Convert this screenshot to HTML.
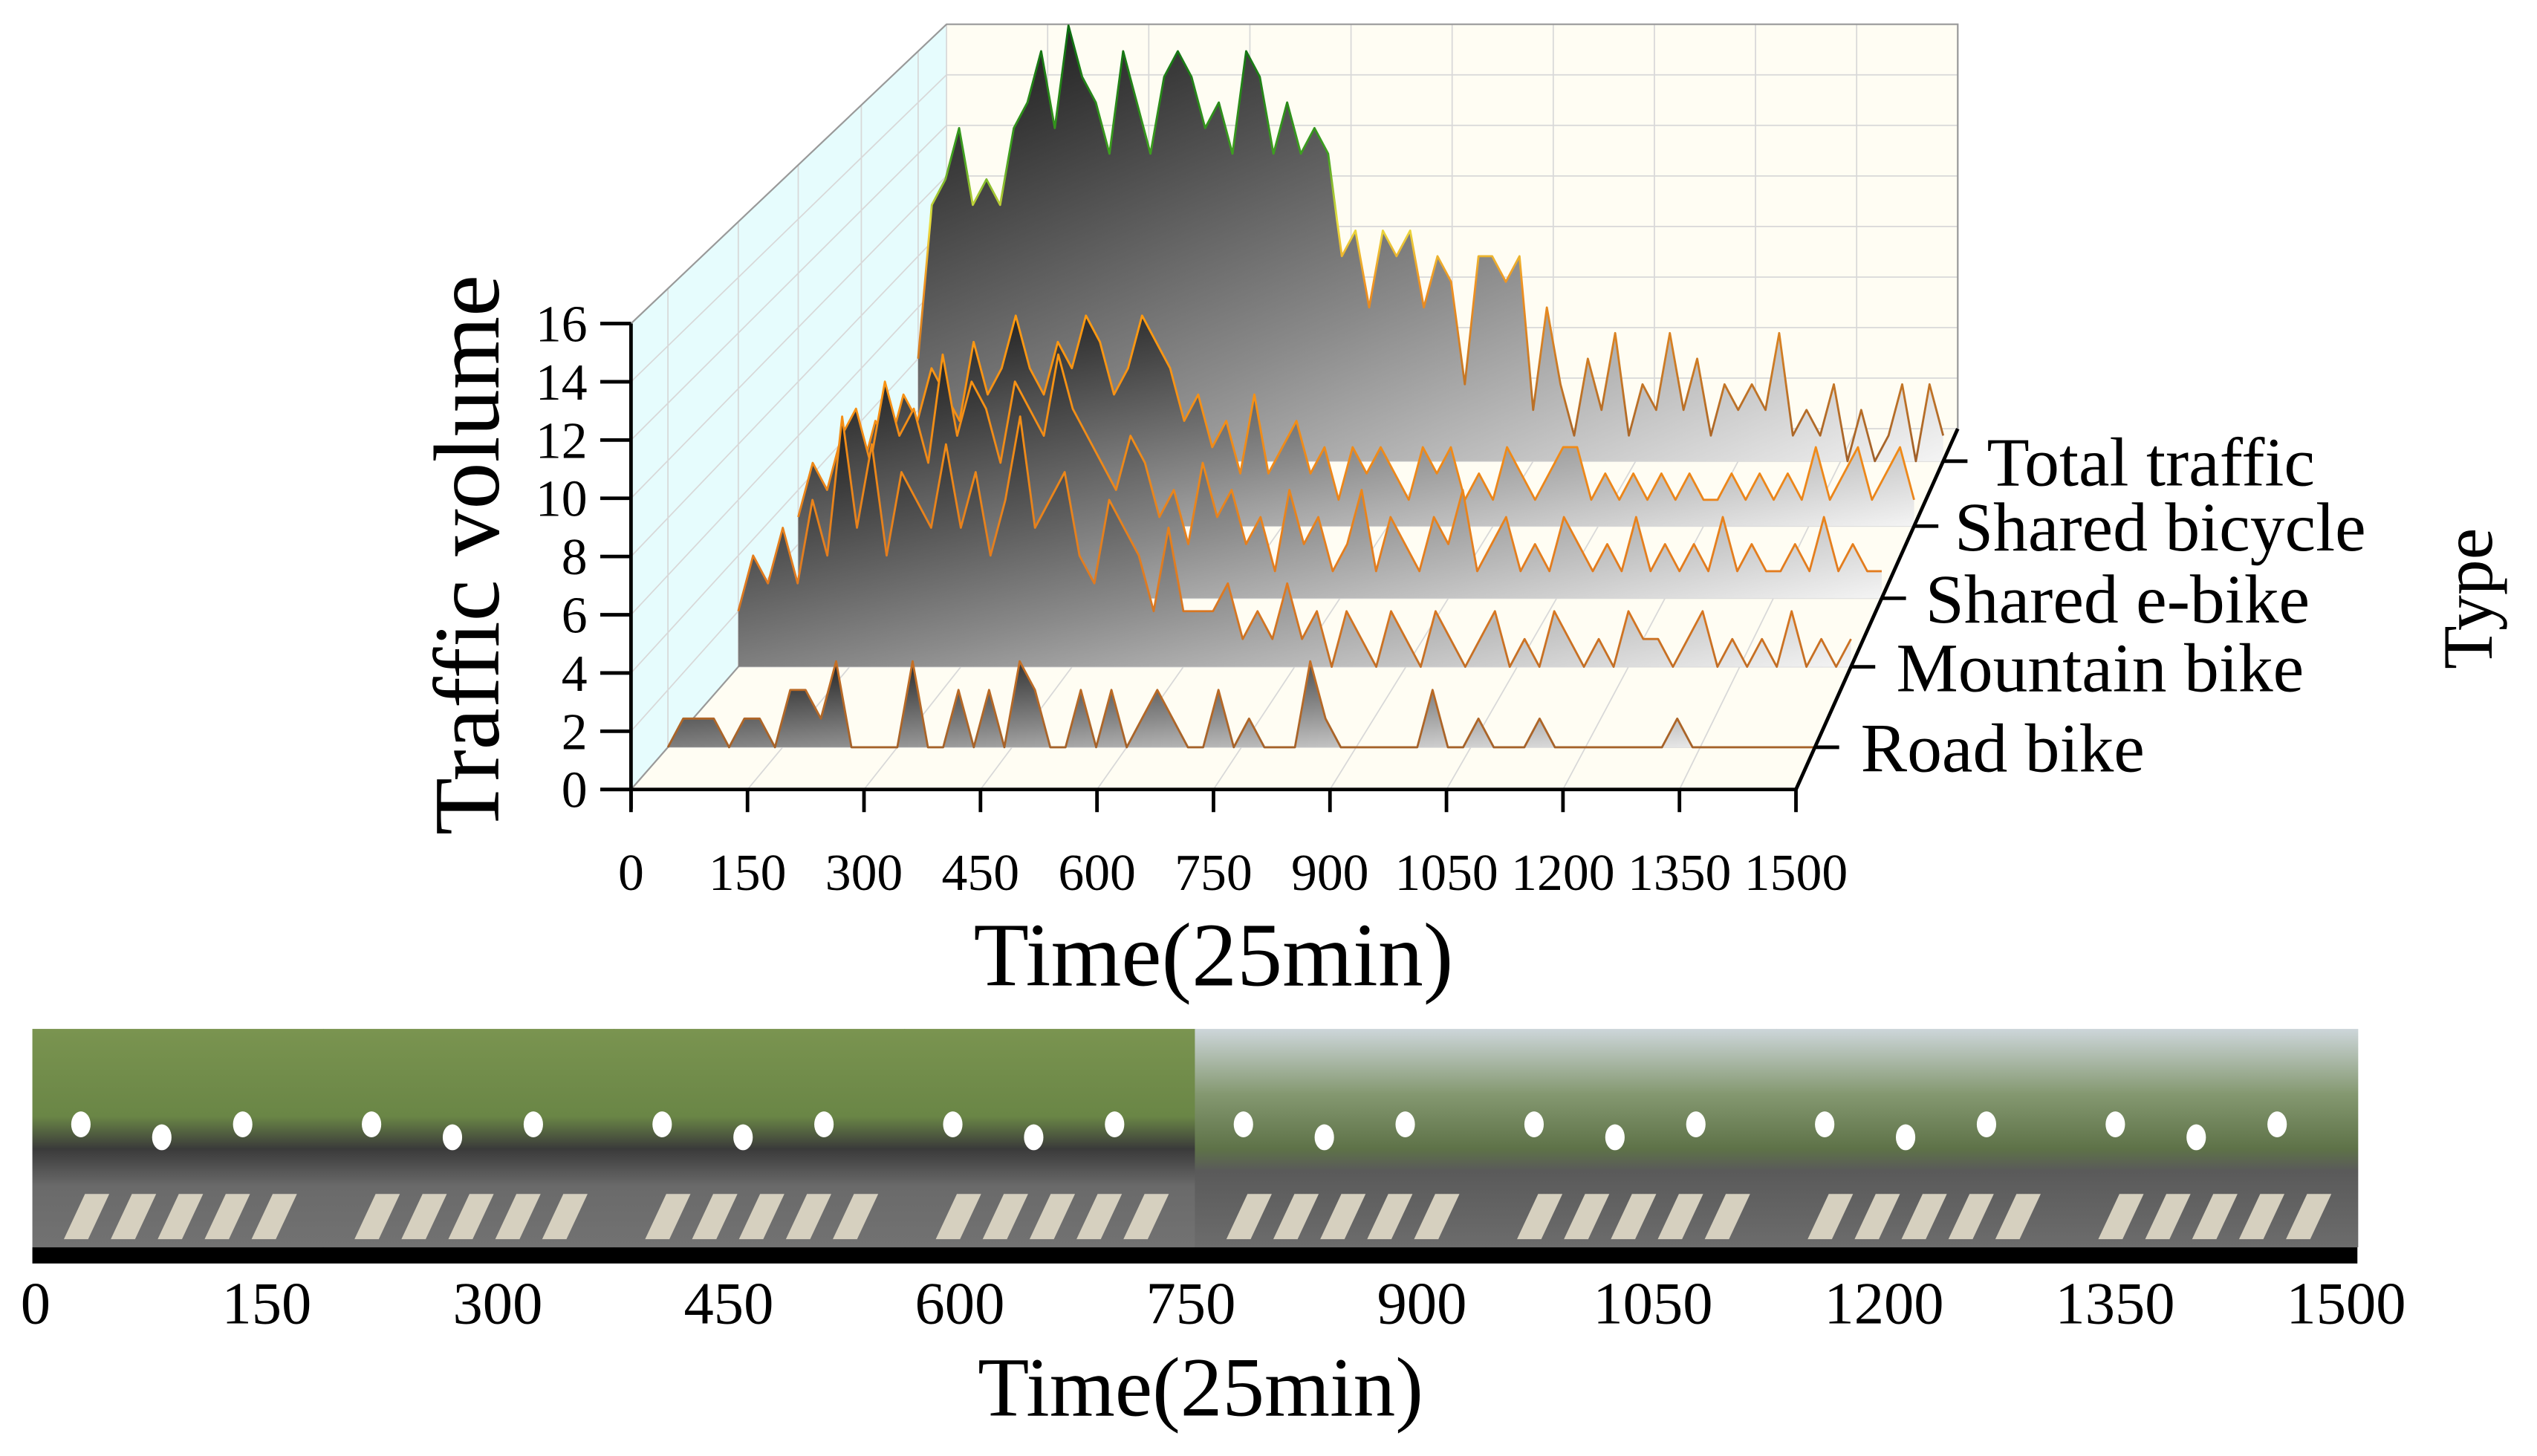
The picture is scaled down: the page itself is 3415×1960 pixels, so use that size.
<!DOCTYPE html>
<html><head><meta charset="utf-8"><style>
html,body{margin:0;padding:0;background:#fff;}
svg{display:block;font-family:"Liberation Serif",serif;}
</style></head><body>
<svg id="chart" width="3415" height="1960" viewBox="0 0 1568 900" preserveAspectRatio="none" xmlns="http://www.w3.org/2000/svg">
<defs>
<linearGradient id="ribbonFill" x1="0" y1="0" x2="1" y2="1">
<stop offset="0" stop-color="#141414"/><stop offset="0.55" stop-color="#8a8a8a"/><stop offset="1" stop-color="#f4f4f4"/>
</linearGradient>
<linearGradient id="totalStroke" gradientUnits="userSpaceOnUse" x1="0" y1="15" x2="0" y2="285">
<stop offset="0" stop-color="#0a6a10"/><stop offset="0.3" stop-color="#3fa020"/><stop offset="0.45" stop-color="#e8e040"/><stop offset="0.6" stop-color="#f09020"/><stop offset="1" stop-color="#a0602a"/>
</linearGradient>
<linearGradient id="orangeStroke" gradientUnits="userSpaceOnUse" x1="0" y1="200" x2="0" y2="470">
<stop offset="0" stop-color="#ff9a10"/><stop offset="0.6" stop-color="#e07a20"/><stop offset="1" stop-color="#a0602a"/>
</linearGradient>
<linearGradient id="trees" x1="0" y1="0" x2="0" y2="1">
<stop offset="0" stop-color="#7a9450"/><stop offset="0.4" stop-color="#6a8646"/><stop offset="0.55" stop-color="#3a3a3a"/><stop offset="0.72" stop-color="#6a6a6a"/><stop offset="1" stop-color="#727272"/>
</linearGradient>
<linearGradient id="sky" x1="0" y1="0" x2="0" y2="1">
<stop offset="0" stop-color="#cdd6da"/><stop offset="0.3" stop-color="#849870"/><stop offset="0.55" stop-color="#5e7248"/><stop offset="0.65" stop-color="#5a5a5a"/><stop offset="1" stop-color="#6c6c6c"/>
</linearGradient>
</defs>
<g id="walls"></g>
<g id="grid"></g>
<g id="ribbons"></g>
<g id="axes"></g>
<g id="photos"></g>
</svg>
<script>
const NS="http://www.w3.org/2000/svg";
const xTicks=[0,150,300,450,600,750,900,1050,1200,1350,1500];
const yTicks=[0,2,4,6,8,10,12,14,16];
const typeNames=["Road bike","Mountain bike","Shared e-bike","Shared bicycle","Total traffic"];
const typeDepths=[0.117,0.34,0.53,0.73,0.91];
const roadBike=[0,1,1,1,0,1,1,0,2,2,1,3,0,0,0,0,3,0,0,2,0,2,0,3,2,0,0,2,0,2,0,1,2,1,0,0,2,0,1,0,0,0,3,1,0,0,0,0,0,0,2,0,0,1,0,0,0,1,0,0,0,0,0,0,0,0,1,0,0,0,0,0,0,0,0,0];
const mountainBike=[2,4,3,5,3,6,4,9,5,8,4,7,6,5,8,5,7,4,6,9,5,6,7,4,3,6,5,4,2,5,2,2,2,3,1,2,1,3,1,2,0,2,1,0,2,1,0,2,1,0,1,2,0,1,0,2,1,0,1,0,2,1,1,0,1,2,0,1,0,1,0,2,0,1,0,1];
const sharedEbike=[3,5,4,6,7,5,8,6,7,5,9,6,8,7,5,8,7,6,9,7,6,5,4,6,5,3,4,2,5,3,4,2,3,1,4,2,3,1,2,4,1,3,2,1,3,2,4,1,2,3,1,2,1,3,2,1,2,1,3,1,2,1,2,1,3,1,2,1,1,2,1,3,1,2,1,1];
const sharedBicycle=[2,4,3,5,4,6,5,4,7,5,6,8,6,5,7,6,8,7,5,6,8,7,6,4,5,3,4,2,5,2,3,4,2,3,1,3,2,3,2,1,3,2,3,1,2,1,3,2,1,2,3,3,1,2,1,2,1,2,1,2,1,1,2,1,2,1,2,1,3,1,2,3,1,2,3,1];
const totalTraffic=[4,10,11,13,10,11,10,13,14,16,13,17,15,14,12,16,14,12,15,16,15,13,14,12,16,15,12,14,12,13,12,8,9,6,9,8,9,6,8,7,3,8,8,7,8,2,6,3,1,4,2,5,1,3,2,5,2,4,1,3,2,3,2,5,1,2,1,3,0,2,0,1,3,0,3,1];
const seriesList=[roadBike,mountainBike,sharedEbike,sharedBicycle,totalTraffic];
const seriesNames=["road-bike","mountain-bike","shared-e-bike","shared-bicycle","total-traffic"];

function px(t,d){return 390+195*d+(t/1500)*(720-95*d);}
function py(v,d){return 488-223*d-(v/16)*(288-38*d);}
function mk(tag,attrs,parent){const e=document.createElementNS(NS,tag);for(const k in attrs)e.setAttribute(k,attrs[k]);parent.appendChild(e);return e;}

const walls=document.getElementById('walls');
let e;
e=mk('polygon',{points:`${px(0,0)},${py(16,0)} ${px(0,1)},${py(16,1)} ${px(0,1)},${py(0,1)} ${px(0,0)},${py(0,0)}`,fill:'#e6fcfd'},walls);

e=mk('rect',{x:px(0,1),y:py(16,1),width:px(1500,1)-px(0,1),height:py(0,1)-py(16,1),fill:'#fffdf3'},walls);

e=mk('polygon',{points:`${px(0,0)},${py(0,0)} ${px(1500,0)},${py(0,0)} ${px(1500,1)},${py(0,1)} ${px(0,1)},${py(0,1)}`,fill:'#fffdf3'},walls);


const grid=document.getElementById('grid');
const gs={stroke:'#d8d8d8','stroke-width':0.8,fill:'none'};
xTicks.forEach(t=>{
 let l=mk('line',Object.assign({x1:px(t,1),y1:py(16,1),x2:px(t,1),y2:py(0,1)},gs),grid);
 
 l=mk('line',Object.assign({x1:px(t,0),y1:py(0,0),x2:px(t,1),y2:py(0,1)},gs),grid);
 
});
yTicks.forEach(v=>{
 let l=mk('line',Object.assign({x1:px(0,1),y1:py(v,1),x2:px(1500,1),y2:py(v,1)},gs),grid);
 
 l=mk('line',Object.assign({x1:px(0,0),y1:py(v,0),x2:px(0,1),y2:py(v,1)},gs),grid);
 
});
[0.117,0.34,0.53,0.73,0.91].forEach(d=>{
 let l=mk('line',Object.assign({x1:px(0,d),y1:py(0,d),x2:px(0,d),y2:py(16,d)},gs),grid);
 
 l=mk('line',Object.assign({x1:px(0,d),y1:py(0,d),x2:px(1500,d),y2:py(0,d)},gs),grid);
 
});
let ol=mk('polyline',{points:`${px(0,0)},${py(16,0)} ${px(0,1)},${py(16,1)} ${px(1500,1)},${py(16,1)} ${px(1500,1)},${py(0,1)}`,fill:'none',stroke:'#999','stroke-width':1},grid);

ol=mk('line',{x1:px(0,0),y1:py(0,0),x2:px(0,1),y2:py(0,1),stroke:'#999','stroke-width':1},grid);


const rib=document.getElementById('ribbons');
for(let s=4;s>=0;s--){
 const vals=seriesList[s],d=typeDepths[s],n=vals.length;
 const pts=vals.map((v,i)=>{const t=i*1500/(n-1);return px(t,d).toFixed(2)+','+py(v,d).toFixed(2);});
 const poly=`${px(0,d)},${py(0,d)} `+pts.join(' ')+` ${px(1500,d)},${py(0,d)}`;
 const f=mk('polygon',{points:poly,fill:'url(#ribbonFill)'},rib);
 
 
 const ln=mk('polyline',{points:pts.join(' '),fill:'none',stroke:s===4?'url(#totalStroke)':'url(#orangeStroke)','stroke-width':1.3,'stroke-linejoin':'round'},rib);
 
 
}

const ax=document.getElementById('axes');
const as={stroke:'#000','stroke-width':2.2};
let a=mk('line',Object.assign({x1:390,y1:py(16,0),x2:390,y2:500},as),ax);

a=mk('line',Object.assign({x1:371,y1:488,x2:px(1500,0),y2:488},as),ax);

a=mk('line',Object.assign({x1:px(1500,0),y1:py(0,0),x2:px(1500,1),y2:py(0,1)},as),ax);

yTicks.forEach(v=>{
 let t=mk('line',Object.assign({x1:371,y1:py(v,0),x2:390,y2:py(v,0)},as),ax);
 
 t=mk('text',{x:363,y:py(v,0)+11,'font-size':32,'text-anchor':'end'},ax);t.textContent=v;
 
});
xTicks.forEach(v=>{
 let t=mk('line',Object.assign({x1:px(v,0),y1:488,x2:px(v,0),y2:502},as),ax);
 
 t=mk('text',{x:px(v,0),y:550,'font-size':32,'text-anchor':'middle'},ax);t.textContent=v;
 
});
const labelX=[1150,1172,1190,1208,1228];
typeNames.forEach((nm,i)=>{
 const d=typeDepths[i];
 const ex=px(1500,0)+100*d, ey=py(0,d);
 let t=mk('line',Object.assign({x1:ex,y1:ey,x2:ex+15,y2:ey},as),ax);
 
 t=mk('text',{x:labelX[i],y:ey+15,'font-size':43},ax);t.textContent=nm;
 
});
let tt=mk('text',{x:750,y:609,'font-size':56,'text-anchor':'middle'},ax);tt.textContent='Time(25min)';

tt=mk('text',{x:0,y:0,'font-size':58,'text-anchor':'middle',transform:'translate(308,343) rotate(-90)'},ax);tt.textContent='Traffic volume';

tt=mk('text',{x:0,y:0,'font-size':44,'text-anchor':'middle',transform:'translate(1540,370) rotate(-90)'},ax);tt.textContent='Type';


const ph=document.getElementById('photos');
const panelW=(1457-20)/8;
for(let i=0;i<8;i++){
 const x=20+i*panelW;
 const r=mk('rect',{x:x,y:636,width:panelW+0.5,height:135,fill:i<4?'url(#trees)':'url(#sky)'},ph);
 
 for(let k=0;k<5;k++){
  const s=mk('rect',{x:x+26+k*29,y:738,width:15,height:28,fill:'#d6d0bf',transform:`skewX(-25)`,'transform-origin':`${x+34+k*29} 752`},ph);
  
 }
 for(let k=0;k<3;k++){
  const c=mk('ellipse',{cx:x+30+k*50,cy:695+(k%2)*8,rx:6,ry:8,fill:'#fff'},ph);
  
 }
}
let bar=mk('rect',{x:20,y:771,width:1437,height:10,fill:'#000'},ph);

xTicks.forEach(v=>{
 const t=mk('text',{x:22+(v/1500)*1428,y:818,'font-size':37,'text-anchor':'middle'},ph);t.textContent=v;
 
});
tt=mk('text',{x:742,y:875,'font-size':52,'text-anchor':'middle'},ph);tt.textContent='Time(25min)';

</script>
</body></html>
